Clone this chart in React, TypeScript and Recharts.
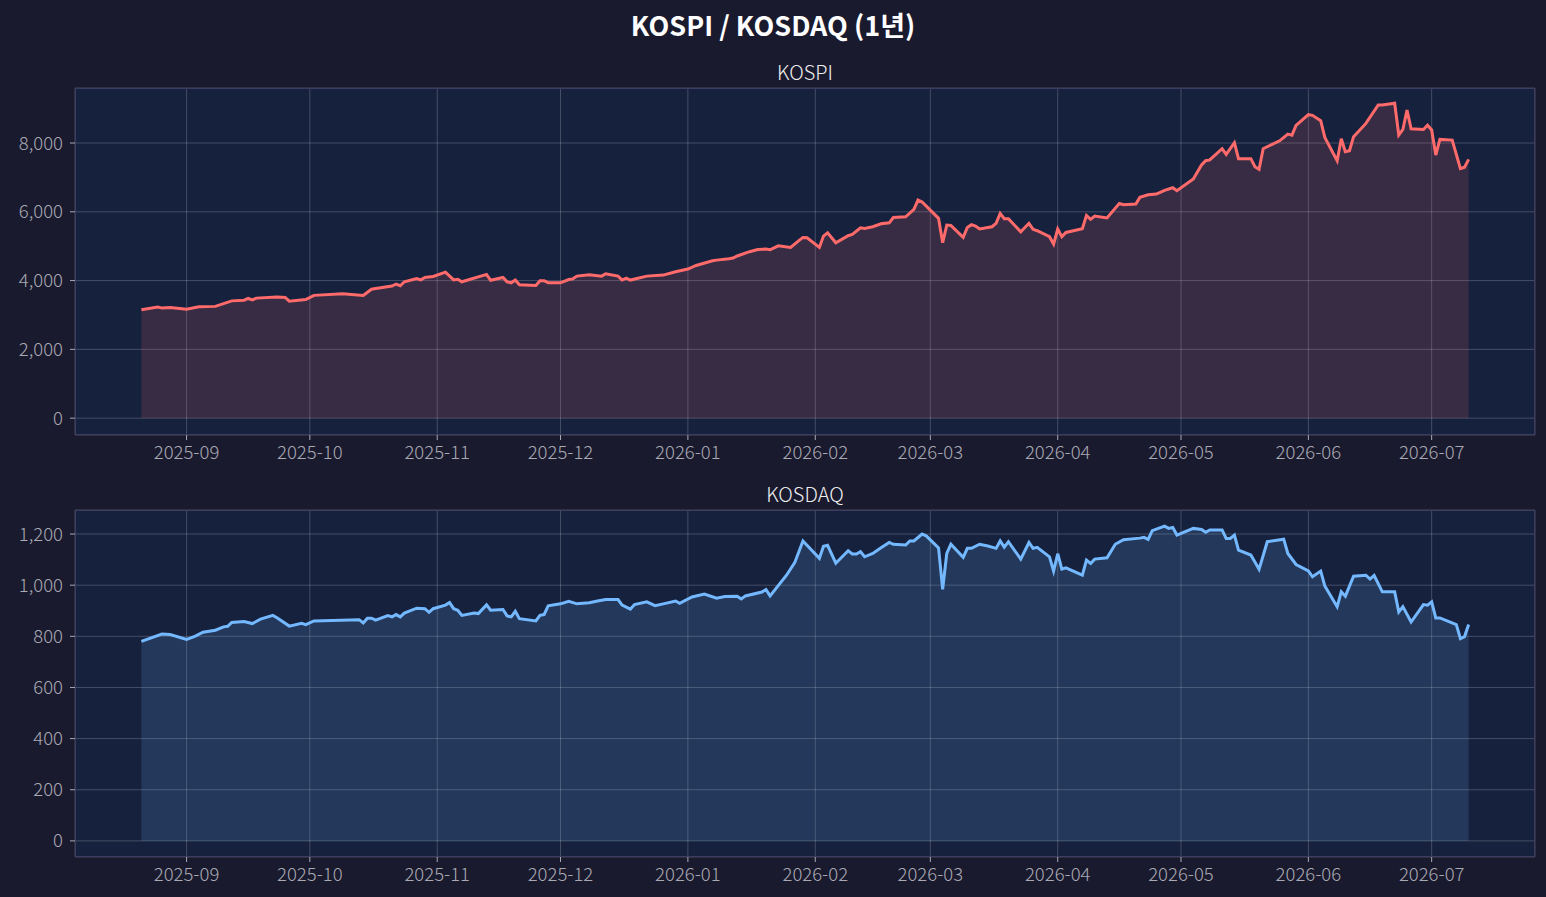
import React from 'react';
import { AreaChart, Area, XAxis, YAxis, CartesianGrid } from 'recharts';

// KOSPI daily close
const kospiDates = [
  '2025-08-21', '2025-08-25', '2025-08-26', '2025-08-28', '2025-09-01', '2025-09-04', '2025-09-08', '2025-09-12',
  '2025-09-15', '2025-09-16', '2025-09-17', '2025-09-18', '2025-09-23', '2025-09-25', '2025-09-26', '2025-09-30',
  '2025-10-02', '2025-10-09', '2025-10-14', '2025-10-16', '2025-10-17', '2025-10-21', '2025-10-22', '2025-10-23',
  '2025-10-24', '2025-10-27', '2025-10-28', '2025-10-29', '2025-10-31', '2025-11-03', '2025-11-05', '2025-11-06',
  '2025-11-07', '2025-11-13', '2025-11-14', '2025-11-17', '2025-11-18', '2025-11-19', '2025-11-20', '2025-11-21',
  '2025-11-25', '2025-11-26', '2025-11-27', '2025-11-28', '2025-12-01', '2025-12-03', '2025-12-04', '2025-12-05',
  '2025-12-08', '2025-12-11', '2025-12-12', '2025-12-15', '2025-12-16', '2025-12-17', '2025-12-18', '2025-12-22',
  '2025-12-26', '2025-12-29', '2026-01-01', '2026-01-03', '2026-01-07', '2026-01-08', '2026-01-11', '2026-01-12',
  '2026-01-13', '2026-01-16', '2026-01-18', '2026-01-20', '2026-01-21', '2026-01-23', '2026-01-26', '2026-01-28',
  '2026-01-29', '2026-01-30', '2026-02-02', '2026-02-03', '2026-02-04', '2026-02-06', '2026-02-09', '2026-02-10',
  '2026-02-12', '2026-02-13', '2026-02-15', '2026-02-17', '2026-02-19', '2026-02-20', '2026-02-23', '2026-02-25',
  '2026-02-26', '2026-02-27', '2026-03-03', '2026-03-04', '2026-03-05', '2026-03-06', '2026-03-09', '2026-03-10',
  '2026-03-11', '2026-03-12', '2026-03-13', '2026-03-16', '2026-03-17', '2026-03-18', '2026-03-19', '2026-03-20',
  '2026-03-23', '2026-03-25', '2026-03-26', '2026-03-27', '2026-03-30', '2026-03-31', '2026-04-01', '2026-04-02',
  '2026-04-03', '2026-04-07', '2026-04-08', '2026-04-09', '2026-04-10', '2026-04-13', '2026-04-16', '2026-04-17',
  '2026-04-20', '2026-04-21', '2026-04-23', '2026-04-25', '2026-04-27', '2026-04-29', '2026-04-30', '2026-05-04',
  '2026-05-06', '2026-05-07', '2026-05-08', '2026-05-11', '2026-05-12', '2026-05-14', '2026-05-15', '2026-05-18',
  '2026-05-19', '2026-05-20', '2026-05-21', '2026-05-25', '2026-05-27', '2026-05-28', '2026-05-29', '2026-06-01',
  '2026-06-02', '2026-06-04', '2026-06-05', '2026-06-08', '2026-06-09', '2026-06-10', '2026-06-11', '2026-06-12',
  '2026-06-15', '2026-06-18', '2026-06-19', '2026-06-22', '2026-06-23', '2026-06-24', '2026-06-25', '2026-06-26',
  '2026-06-29', '2026-06-30', '2026-07-01', '2026-07-02', '2026-07-03', '2026-07-06', '2026-07-08', '2026-07-09',
  '2026-07-10',
];
const kospiValues = [
  3150, 3230, 3200, 3220, 3170, 3240, 3250, 3410,
  3430, 3480, 3440, 3490, 3520, 3510, 3400, 3450,
  3570, 3615, 3570, 3750, 3770, 3840, 3900, 3850,
  3965, 4060, 4020, 4090, 4120, 4245, 4020, 4040,
  3965, 4180, 4010, 4090, 3965, 3936, 4015, 3880,
  3860, 3995, 3995, 3940, 3936, 4030, 4050, 4130,
  4170, 4130, 4200, 4130, 4015, 4070, 4015, 4130,
  4160, 4255, 4335, 4440, 4575, 4595, 4635, 4655,
  4715, 4840, 4905, 4915, 4895, 5010, 4965, 5160,
  5255, 5245, 4965, 5295, 5390, 5100, 5305, 5340,
  5535, 5515, 5565, 5650, 5680, 5835, 5855, 6070,
  6340, 6285, 5810, 5100, 5615, 5605, 5255, 5545,
  5625, 5585, 5500, 5565, 5665, 5955, 5800, 5800,
  5420, 5665, 5490, 5450, 5275, 5060, 5500, 5275,
  5400, 5510, 5895, 5780, 5875, 5820, 6245, 6205,
  6225, 6420, 6495, 6515, 6625, 6700, 6615, 6955,
  7360, 7485, 7510, 7835, 7670, 8010, 7545, 7545,
  7310, 7235, 7835, 8065, 8260, 8230, 8515, 8825,
  8805, 8650, 8165, 7485, 8125, 7745, 7775, 8185,
  8570, 9105, 9105, 9155, 8230, 8395, 8960, 8415,
  8395, 8515, 8380, 7650, 8105, 8085, 7255, 7295,
  7525,
];

// KOSDAQ daily close
const kosdaqDates = [
  '2025-08-21', '2025-08-26', '2025-08-28', '2025-09-01', '2025-09-03', '2025-09-05', '2025-09-08', '2025-09-10',
  '2025-09-11', '2025-09-12', '2025-09-15', '2025-09-17', '2025-09-19', '2025-09-22', '2025-09-23', '2025-09-26',
  '2025-09-29', '2025-09-30', '2025-10-02', '2025-10-13', '2025-10-14', '2025-10-15', '2025-10-16', '2025-10-17',
  '2025-10-20', '2025-10-21', '2025-10-22', '2025-10-23', '2025-10-24', '2025-10-27', '2025-10-29', '2025-10-30',
  '2025-10-31', '2025-11-03', '2025-11-04', '2025-11-05', '2025-11-06', '2025-11-07', '2025-11-10', '2025-11-11',
  '2025-11-13', '2025-11-14', '2025-11-17', '2025-11-18', '2025-11-19', '2025-11-20', '2025-11-21', '2025-11-25',
  '2025-11-26', '2025-11-27', '2025-11-28', '2025-12-01', '2025-12-03', '2025-12-05', '2025-12-08', '2025-12-10',
  '2025-12-12', '2025-12-15', '2025-12-16', '2025-12-18', '2025-12-19', '2025-12-22', '2025-12-24', '2025-12-26',
  '2025-12-29', '2025-12-30', '2026-01-02', '2026-01-05', '2026-01-08', '2026-01-10', '2026-01-13', '2026-01-14',
  '2026-01-15', '2026-01-19', '2026-01-20', '2026-01-21', '2026-01-25', '2026-01-27', '2026-01-29', '2026-02-02',
  '2026-02-03', '2026-02-04', '2026-02-06', '2026-02-09', '2026-02-10', '2026-02-11', '2026-02-12', '2026-02-13',
  '2026-02-15', '2026-02-17', '2026-02-19', '2026-02-20', '2026-02-23', '2026-02-24', '2026-02-25', '2026-02-27',
  '2026-02-28', '2026-03-03', '2026-03-04', '2026-03-05', '2026-03-06', '2026-03-09', '2026-03-10', '2026-03-11',
  '2026-03-13', '2026-03-15', '2026-03-17', '2026-03-18', '2026-03-19', '2026-03-20', '2026-03-23', '2026-03-25',
  '2026-03-26', '2026-03-27', '2026-03-30', '2026-03-31', '2026-04-01', '2026-04-02', '2026-04-03', '2026-04-07',
  '2026-04-08', '2026-04-09', '2026-04-10', '2026-04-13', '2026-04-15', '2026-04-17', '2026-04-21', '2026-04-22',
  '2026-04-23', '2026-04-24', '2026-04-27', '2026-04-28', '2026-04-29', '2026-04-30', '2026-05-04', '2026-05-06',
  '2026-05-07', '2026-05-08', '2026-05-11', '2026-05-12', '2026-05-13', '2026-05-14', '2026-05-15', '2026-05-18',
  '2026-05-20', '2026-05-22', '2026-05-26', '2026-05-27', '2026-05-29', '2026-06-01', '2026-06-02', '2026-06-04',
  '2026-06-05', '2026-06-08', '2026-06-09', '2026-06-10', '2026-06-12', '2026-06-15', '2026-06-16', '2026-06-17',
  '2026-06-19', '2026-06-22', '2026-06-23', '2026-06-24', '2026-06-26', '2026-06-29', '2026-06-30', '2026-07-01',
  '2026-07-02', '2026-07-03', '2026-07-07', '2026-07-08', '2026-07-09', '2026-07-10',
];
const kosdaqValues = [
  780, 809, 807, 788, 800, 816, 824, 837,
  839, 854, 858, 850, 867, 882, 873, 840,
  851, 846, 860, 865, 852, 871, 871, 863,
  881, 876, 885, 876, 891, 910, 908, 894,
  908, 922, 932, 908, 902, 882, 891, 889,
  923, 902, 905, 880, 876, 898, 869, 860,
  882, 885, 919, 927, 937, 927, 931, 938,
  944, 944, 922, 906, 924, 935, 920, 927,
  938, 929, 954, 965, 949, 956, 957, 946,
  958, 973, 983, 958, 1039, 1088, 1173, 1105,
  1152, 1156, 1086, 1135, 1122, 1122, 1131, 1111,
  1124, 1146, 1167, 1160, 1157, 1173, 1173, 1200,
  1193, 1146, 984, 1124, 1160, 1109, 1144, 1144,
  1160, 1153, 1144, 1173, 1149, 1170, 1102, 1167,
  1144, 1148, 1111, 1055, 1123, 1063, 1068, 1039,
  1098, 1085, 1102, 1107, 1160, 1178, 1184, 1187,
  1179, 1213, 1231, 1222, 1226, 1196, 1222, 1218,
  1207, 1216, 1216, 1183, 1183, 1196, 1137, 1118,
  1062, 1170, 1180, 1124, 1081, 1056, 1033, 1055,
  997, 916, 974, 957, 1035, 1039, 1024, 1038,
  974, 974, 895, 916, 856, 924, 922, 935,
  872, 872, 846, 791, 799, 846,
];

const monthTicks = [
  '2025-09-01', '2025-10-01', '2025-11-01', '2025-12-01', '2026-01-01', '2026-02-01',
  '2026-03-01', '2026-04-01', '2026-05-01', '2026-06-01', '2026-07-01',
];
const kospiTicks = [0, 2000, 4000, 6000, 8000];
const kosdaqTicks = [0, 200, 400, 600, 800, 1000, 1200];

const toTime = (s: string) => {
  const [y, m, d] = s.split('-').map(Number);
  return Date.UTC(y, m - 1, d);
};
const fmtMonth = (t: number) => {
  const d = new Date(t);
  return `${d.getUTCFullYear()}-${String(d.getUTCMonth() + 1).padStart(2, '0')}`;
};
const fmtNum = (v: number) => v.toLocaleString('en-US');

const kospiData = kospiDates.map((d, i) => ({ t: toTime(d), v: kospiValues[i] }));
const kosdaqData = kosdaqDates.map((d, i) => ({ t: toTime(d), v: kosdaqValues[i] }));

// x range with 5% padding like matplotlib
const tMin = toTime(kospiDates[0]);
const tMax = toTime(kospiDates[kospiDates.length - 1]);
const pad = (tMax - tMin) * 0.05;
const xDomain = [tMin - pad, tMax + pad];

const FONT = "'Noto Sans CJK KR', 'Noto Sans', sans-serif";
const BG = '#1a1a2e';
const AX_BG = '#16213e';
const SPINE = '#3b3d62';
const TICK = '#a9a9b3';

type PanelProps = {
  title: string;
  data: { t: number; v: number }[];
  color: string;
  yTicks: number[];
  yDomain: number[];
  top: number;
};

function Panel({ title, data, color, yTicks, yDomain, top }: PanelProps) {
  const tickStyle = { fill: TICK, fontSize: 18.5, fontFamily: FONT, fontWeight: 300 };
  return (
    <>
      <div
        style={{
          position: 'absolute', left: 75, width: 1460, top: top + 59, lineHeight: '26px',
          textAlign: 'center', color: '#eeeeee', fontSize: 20, fontWeight: 300, fontFamily: FONT,
        }}
      >
        {title}
      </div>
      <div style={{ position: 'absolute', left: 0, top }}>
        <AreaChart width={1546} height={470} data={data} margin={{ top: 88, right: 11, left: 0, bottom: 0 }}>
          <CartesianGrid fill={AX_BG} stroke="#ffffff" strokeOpacity={0.2} />
          <XAxis
            dataKey="t"
            type="number"
            domain={xDomain}
            allowDataOverflow
            ticks={monthTicks.map(toTime)}
            tickFormatter={fmtMonth}
            axisLine={false}
            tickLine={{ stroke: TICK }}
            tickSize={5}
            tickMargin={6}
            height={35}
            tick={tickStyle}
          />
          <YAxis
            type="number"
            domain={yDomain}
            allowDataOverflow
            ticks={yTicks}
            tickFormatter={fmtNum}
            axisLine={false}
            tickLine={{ stroke: TICK }}
            tickSize={5}
            tickMargin={7}
            width={75}
            tick={tickStyle}
          />
          <Area
            type="linear"
            dataKey="v"
            baseValue={0}
            stroke={color}
            strokeWidth={3}
            fill={color}
            fillOpacity={0.15}
            dot={false}
            activeDot={false}
            isAnimationActive={false}
          />
        </AreaChart>
      </div>
      <div
        style={{
          position: 'absolute', left: 75, top: top + 88, width: 1460, height: 347,
          border: `1px solid ${SPINE}`, boxSizing: 'border-box', pointerEvents: 'none',
        }}
      />
    </>
  );
}

export default function App() {
  return (
    <div style={{ position: 'absolute', left: 0, top: 0, width: 1546, height: 897, background: BG, overflow: 'hidden' }}>
      <div
        style={{
          position: 'absolute', left: 0, width: 1546, top: 8, lineHeight: '34px', textAlign: 'center',
          color: '#ffffff', fontSize: 27, fontWeight: 'bold', fontFamily: FONT,
        }}
      >
        KOSPI / KOSDAQ (1년)
      </div>
      <Panel title="KOSPI" data={kospiData} color="#ff6b6b" yTicks={kospiTicks} yDomain={[-490, 9600]} top={0} />
      <Panel title="KOSDAQ" data={kosdaqData} color="#74b9ff" yTicks={kosdaqTicks} yDomain={[-63, 1294]} top={422} />
    </div>
  );
}
